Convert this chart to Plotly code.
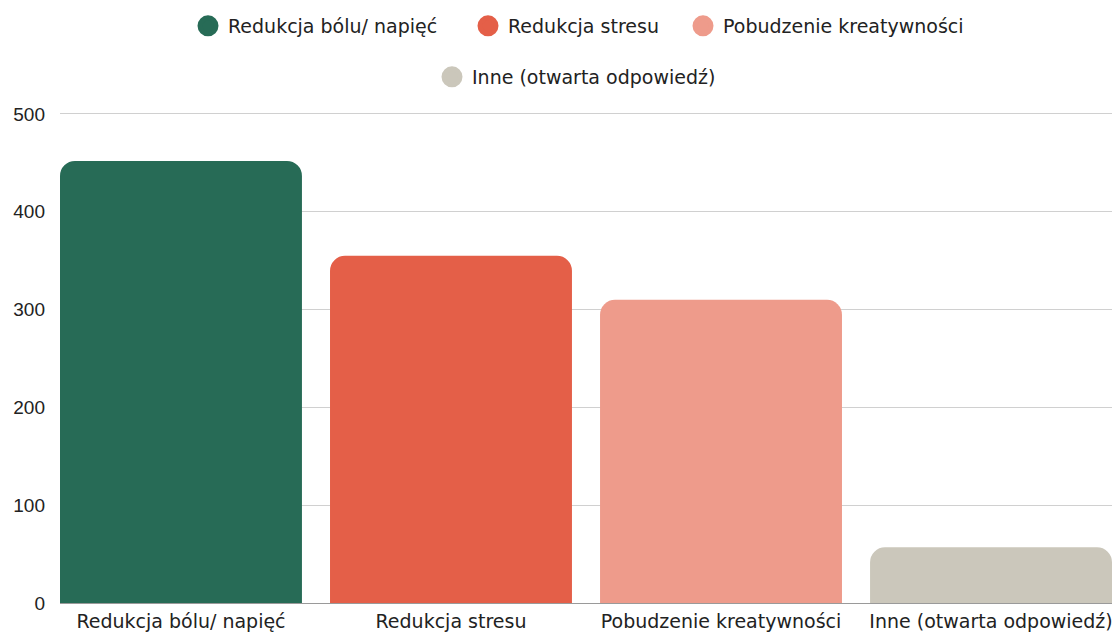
import plotly.graph_objects as go

categories = ["Redukcja bólu/ napięć", "Redukcja stresu", "Pobudzenie kreatywności", "Inne (otwarta odpowiedź)"]
values = [452, 355, 310, 57]
colors = ["#276b56", "#e45f48", "#ee9b8b", "#cbc7bb"]
y_ticks = [0, 100, 200, 300, 400, 500]

LABEL_FONT = "DejaVu Sans"
W, H = 1116, 634

# legend entry placement (circle centre x, row centre y) in px
legend_pos = [(208, 26), (488, 26), (703, 26), (452, 77)]

fig = go.Figure()
fig.add_trace(go.Bar(
    x=categories, y=values, marker=dict(color=colors, line=dict(width=0)),
    showlegend=False, hoverinfo="x+y",
))
legend_names = ["legend", "legend2", "legend3", "legend4"]
for c, col, lg in zip(categories, colors, legend_names):
    fig.add_trace(go.Scatter(
        x=[None], y=[None], mode="markers", name=c,
        marker=dict(symbol="circle", size=16, color=col, line=dict(color=col, width=5)),
        legend=lg,
    ))

legend_layout = {}
for lg, (cx, cy) in zip(legend_names, legend_pos):
    legend_layout[lg] = dict(
        orientation="h", x=(cx - 20) / W, xanchor="left", xref="container",
        y=1 - cy / H, yanchor="middle", yref="container",
        font=dict(family=LABEL_FONT, size=19, color="#222"),
        borderwidth=0, bgcolor="rgba(0,0,0,0)",
    )

fig.update_layout(
    width=W, height=H,
    margin=dict(l=60, r=4, t=111, b=31, autoexpand=False),
    paper_bgcolor="white", plot_bgcolor="white",
    bargap=0.104, barcornerradius=15,
    font=dict(family=LABEL_FONT, size=19, color="#222"),
    xaxis=dict(range=[-0.448, 3.448], showgrid=False, showline=False, ticks="",
               tickfont=dict(family=LABEL_FONT, size=19, color="#222"), fixedrange=True,
               automargin=False, ticklabelstandoff=5),
    yaxis=dict(range=[0, 503], tickvals=y_ticks,
               gridcolor="#d0d0d0", gridwidth=1,
               zeroline=True, zerolinecolor="#9a9a9a", zerolinewidth=1,
               tickfont=dict(family="Liberation Sans", size=19, color="#222"),
               ticklabelstandoff=14, showline=False, automargin=False, fixedrange=True),
    **legend_layout,
)

fig.write_html("out.html", config={"displayModeBar": False},
               post_script="document.body.style.margin='0';document.body.style.overflow='hidden';")
